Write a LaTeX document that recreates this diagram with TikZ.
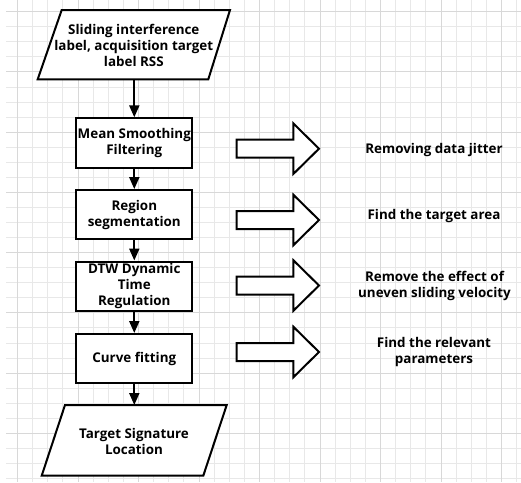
\documentclass[tikz,border=0pt]{standalone}
\usepackage{fontspec}
\setmainfont{Open Sans}
\usetikzlibrary{arrows.meta}
\definecolor{gridminor}{HTML}{E8E8E8}
\definecolor{gridmajor}{HTML}{D8D8D8}
\begin{document}
\begin{tikzpicture}[x=1pt,y=-1pt,
  txt/.style={font=\bfseries\fontsize{13.4}{15.8}\selectfont, align=center, inner sep=0pt},
  box/.style={draw, line width=2pt, fill=white, minimum width=116pt, minimum height=49.4pt, inner sep=0pt, txt},
  io/.style={draw, line width=2pt, fill=white, line join=miter},
  conn/.style={line width=2pt, -{Triangle[width=10pt,length=12pt]}},
  blk/.style={draw, line width=2pt, fill=white, line join=miter},
  barrow/.pic={\path[blk] (0,-9) -- (56.6,-9) -- (56.6,-25.3) -- (82.3,0) -- (56.6,25.3) -- (56.6,9) -- (0,9) -- cycle;}
]
\fill[white] (0,0) rectangle (521,482);
\useasboundingbox (0,0) rectangle (521,482);
% grid
\foreach \i in {0,...,33}{\draw[gridminor, line width=1pt] ({17.5+15.125*\i},0) -- ({17.5+15.125*\i},482);}
\foreach \i in {0,...,31}{\draw[gridminor, line width=1pt] (6,{11.7+15.06*\i}) -- (521,{11.7+15.06*\i});}
\foreach \i in {0,...,8}{\draw[gridmajor, line width=1pt] ({17.5+60.5*\i},0) -- ({17.5+60.5*\i},482);}
\foreach \i in {0,...,7}{\draw[gridmajor, line width=1pt] (6,{11.7+60.24*\i}) -- (521,{11.7+60.24*\i});}
% input / output parallelograms
\path[io] (61.7,10) -- (230,10) -- (208.3,79.3) -- (37.7,79.3) -- cycle;
\node[txt] (in) at (133.8,45.5) {Sliding interference\\label, acquisition target\\label RSS};
\coordinate (inb) at (134.3,79.3);
\path[io] (65,405) -- (226.7,405) -- (203.3,475.7) -- (41.7,475.7) -- cycle;
\node[txt] (out) at (134,441.3) {Target Signature\\Location};
\coordinate (outt) at (134.3,405);
% process boxes
\node[box] (b1) at (134.3,143) {Mean Smoothing\\Filtering};
\node[box] (b2) at (134.3,214.75) {Region\\segmentation};
\node[box] (b3) at (134.3,286.2) {DTW Dynamic\\Time\\Regulation};
\node[box] (b4) at (134.3,358.7) {Curve fitting};
% connectors
\draw[conn] (inb) -- (b1.north);
\draw[conn] (b1) -- (b2);
\draw[conn] (b2) -- (b3);
\draw[conn] (b3) -- (b4);
\draw[conn] (b4.south) -- (outt);
% block arrows
\pic (ba1) at (236.7,148.7) {barrow};
\pic (ba2) at (236.7,220) {barrow};
\pic (ba3) at (236.7,285.5) {barrow};
\pic (ba4) at (236.7,352) {barrow};
% labels
\node[txt] (l1) at (434,150) {Removing data jitter};
\node[txt] (l2) at (434,216) {Find the target area};
\node[txt] (l3) at (434.5,286.2) {Remove the effect of\\uneven sliding velocity};
\node[txt] (l4) at (434,352.3) {Find the relevant\\parameters};
\end{tikzpicture}
\end{document}
